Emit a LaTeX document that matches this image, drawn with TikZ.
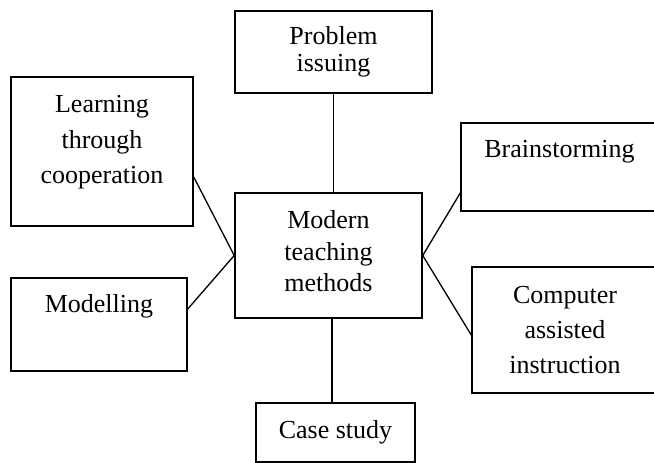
\documentclass[tikz,border=0pt]{standalone}
\usepackage{fontspec}
\setmainfont{Liberation Serif}

\begin{document}
\begin{tikzpicture}[node distance=200pt]

			\tikzstyle{box} = [rectangle, draw=black, line width=1.5pt, inner sep=0pt, align=center, font=\fontsize{26pt}{35pt}\selectfont]
			\tikzstyle{link} = [line width=1.3pt]

			\useasboundingbox (-328.5pt,-207.5pt) rectangle (325.5pt,255.5pt);

			% Nodes
			\node (centre) [box, minimum width=187pt, minimum height=125pt, text depth=9pt, font=\fontsize{26pt}{31.5pt}\selectfont] {Modern\\teaching\\methods};
			\node (prob) [box, above of=centre, xshift=5pt, yshift=3.5pt, minimum width=197pt, minimum height=82pt, font=\fontsize{26pt}{27pt}\selectfont] {Problem\\issuing};
			\node (learn) [box, left of=centre, xshift=-26.5pt, yshift=104pt, minimum width=182pt, minimum height=149pt, text depth=23.5pt, font=\fontsize{26pt}{35.5pt}\selectfont] {Learning\\through\\cooperation};
			\node (model) [box, left of=centre, xshift=-29.5pt, yshift=-69pt, minimum width=176pt, minimum height=93pt, text height=18pt, text depth=41pt] {Modelling};
			\node (brain) [box, right of=centre, xshift=31pt, yshift=88.5pt, minimum width=197pt, minimum height=88pt, text height=18pt, text depth=36pt] {Brainstorming};
			\node (comp) [box, right of=centre, xshift=36.5pt, yshift=-74.5pt, minimum width=186pt, minimum height=126pt] {Computer\\assisted\\instruction};
			\node (case) [box, below of=centre, xshift=7pt, yshift=23pt, minimum width=159pt, minimum height=59pt] {Case study};

			% Lines
			\draw [link] (prob.south) -- (prob.south |- centre.north);
			\draw [link] ([yshift=-25.5pt]learn.east) -- (centre.west);
			\draw [link] ([yshift=15.5pt]model.east) -- (centre.west);
			\draw [link] (centre.east) -- ([yshift=-26pt]brain.west);
			\draw [link] (centre.east) -- ([yshift=-5pt]comp.west);
			\draw [link] ([xshift=-3.5pt]case.north) -- ([xshift=-3.5pt]case.north |- centre.south);

\end{tikzpicture}
\end{document}
